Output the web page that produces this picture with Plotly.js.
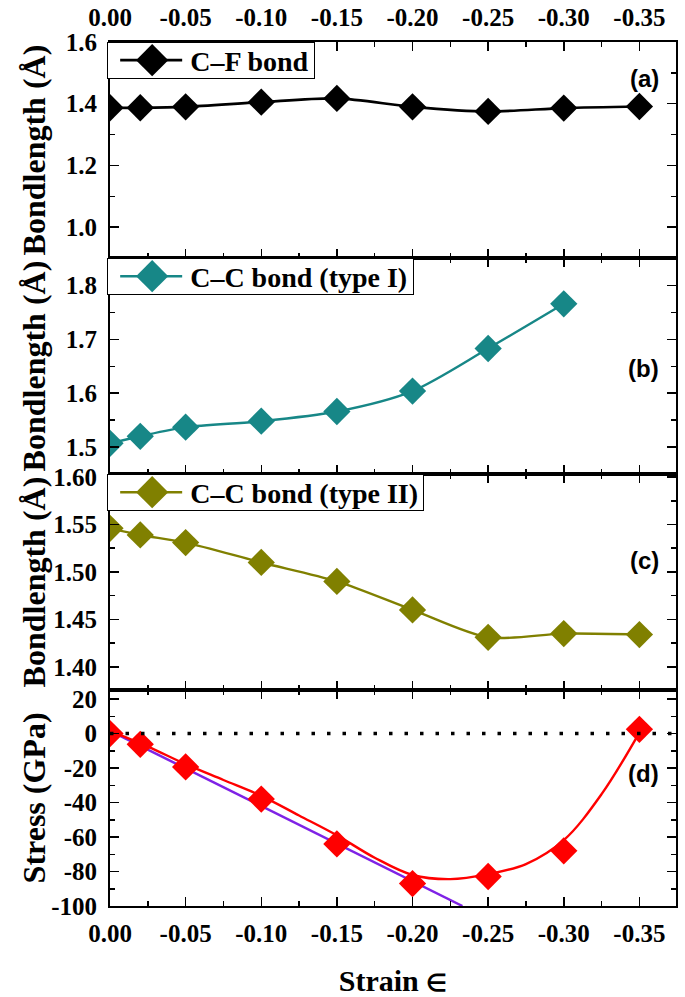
<!DOCTYPE html>
<html>
<head>
<meta charset="utf-8">
<script src="https://cdn.plot.ly/plotly-3.0.1.min.js"></script>
<style>
  html, body { margin: 0; padding: 0; background: #ffffff; }
  #chart { width: 685px; height: 997px; }
</style>
</head>
<body>
<div id="chart"></div>
<script>
// ---- data ----
const strain = [0, -0.02, -0.05, -0.10, -0.15, -0.20, -0.25, -0.30, -0.35];
const strainTypeI = [0, -0.02, -0.05, -0.10, -0.15, -0.20, -0.25, -0.30];
const cfBond = [1.387, 1.387, 1.390, 1.405, 1.417, 1.390, 1.375, 1.386, 1.391];
const ccBondTypeI = [1.507, 1.520, 1.537, 1.548, 1.566, 1.604, 1.683, 1.766];
const ccBondTypeII = [1.546, 1.539, 1.531, 1.510, 1.490, 1.460, 1.431, 1.435, 1.434];
const stress = [0, -6.2, -19.3, -38, -64, -87, -82.9, -68, 2.5];

// red fitted curve
const fitStrain = [0, -0.025, -0.05, -0.075, -0.10, -0.125, -0.15, -0.175, -0.20, -0.225, -0.25, -0.275, -0.30, -0.325, -0.35];
const fitStress = [1.6, -7.5, -17.7, -26.9, -36.1, -47.5, -59.0, -72.0, -82.0, -84.4, -81.5, -75.7, -61.8, -35.1, 0.6];

// violet linear (elastic) fit
const linStrain = [0, -0.233];
const linStress = [1.6, -100];

// tick labels
const xTickVals = [0, -0.05, -0.10, -0.15, -0.20, -0.25, -0.30, -0.35];
const xTickText = ['0.00', '-0.05', '-0.10', '-0.15', '-0.20', '-0.25', '-0.30', '-0.35'];
const yaTickVals = [1.0, 1.2, 1.4, 1.6];
const yaTickText = ['1.0', '1.2', '1.4', '1.6'];
const ybTickVals = [1.5, 1.6, 1.7, 1.8];
const ybTickText = ['1.5', '1.6', '1.7', '1.8'];
const ycTickVals = [1.40, 1.45, 1.50, 1.55, 1.60];
const ycTickText = ['1.40', '1.45', '1.50', '1.55', '1.60'];
const ydTickVals = [-100, -80, -60, -40, -20, 0, 20];
const ydTickText = ['-100', '-80', '-60', '-40', '-20', '0', '20'];

const legendNames = ['C\u2013F bond', 'C\u2013C bond (type I)', 'C\u2013C bond (type II)'];
const panelLabels = ['(a)', '(b)', '(c)', '(d)'];
const yTitles = ['Bondlength (\u00C5)', 'Bondlength (\u00C5)', 'Bondlength (\u00C5)', 'Stress (GPa)'];
const xTitle = 'Strain <span style="font-size:24px">\u2208</span>';

// ---- styling ----
const SERIF = '"Liberation Serif", "Times New Roman", serif';
const SANS = '"Liberation Sans", Arial, sans-serif';
const tickFont = { family: SERIF, size: 25, color: '#000' };
const MS = 21;

const traces = [
  { x: strain, y: cfBond, xaxis: 'x', yaxis: 'y', type: 'scatter', mode: 'lines+markers',
    name: legendNames[0], legend: 'legend',
    line: { color: '#000000', width: 2.7, shape: 'spline', smoothing: 0.8 },
    marker: { symbol: 'diamond', size: MS, color: '#000000' }, cliponaxis: true },
  { x: strainTypeI, y: ccBondTypeI, xaxis: 'x2', yaxis: 'y2', type: 'scatter', mode: 'lines+markers',
    name: legendNames[1], legend: 'legend2',
    line: { color: '#178787', width: 2.4, shape: 'spline', smoothing: 0.8 },
    marker: { symbol: 'diamond', size: MS, color: '#178787' }, cliponaxis: true },
  { x: strain, y: ccBondTypeII, xaxis: 'x3', yaxis: 'y3', type: 'scatter', mode: 'lines+markers',
    name: legendNames[2], legend: 'legend3',
    line: { color: '#808000', width: 2.4, shape: 'spline', smoothing: 0.8 },
    marker: { symbol: 'diamond', size: MS, color: '#808000' }, cliponaxis: true },
  { x: linStrain, y: linStress, xaxis: 'x4', yaxis: 'y4', type: 'scatter', mode: 'lines',
    showlegend: false, line: { color: '#7f22e6', width: 2.5 } },
  { x: fitStrain, y: fitStress, xaxis: 'x4', yaxis: 'y4', type: 'scatter', mode: 'lines',
    showlegend: false, line: { color: '#ff0000', width: 2.4, shape: 'spline', smoothing: 1 } },
  { x: strain, y: stress, xaxis: 'x4', yaxis: 'y4', type: 'scatter', mode: 'markers',
    showlegend: false, marker: { symbol: 'diamond', size: MS, color: '#ff0000' }, cliponaxis: true }
];

const xRange = [0, -0.3742];
function xAxis(anchor, opts) {
  return Object.assign({
    anchor: anchor, range: xRange, autorange: false,
    tickvals: xTickVals, ticktext: xTickText,
    ticks: 'inside', ticklen: 9, tickwidth: 1.5, tickcolor: '#000',
    minor: { dtick: 0.025, tick0: 0, ticks: 'inside', ticklen: 5, tickwidth: 1.5, tickcolor: '#000' },
    showline: true, linecolor: '#000', linewidth: 2, mirror: 'allticks',
    showgrid: false, zeroline: false, tickfont: tickFont, ticklabelstandoff: 4
  }, opts);
}
function yAxis(anchor, domain, range, vals, text, minorD, opts) {
  return Object.assign({
    anchor: anchor, domain: domain, range: range, autorange: false,
    tickvals: vals, ticktext: text,
    ticks: 'inside', ticklen: 9, tickwidth: 1.5, tickcolor: '#000',
    minor: { dtick: minorD, tick0: 0, ticks: 'inside', ticklen: 5, tickwidth: 1.5, tickcolor: '#000' },
    showline: true, linecolor: '#000', linewidth: 2, mirror: 'allticks',
    showgrid: false, zeroline: false, tickfont: tickFont, ticklabelstandoff: 6
  }, opts || {});
}

const legendBase = {
  xref: 'paper', yref: 'paper', x: -0.005, xanchor: 'left', yanchor: 'top',
  bgcolor: '#ffffff', bordercolor: '#000000', borderwidth: 1,
  font: { family: SERIF, size: 28, color: '#000', weight: 'bold' },
  itemwidth: 72, tracegroupgap: 0
};

const panelY = [0.832, 0.49, 0.60, 0.613];
const domains = [[0.75, 1], [0.5, 0.75], [0.25, 0.5], [0, 0.25]];
const yRefs = ['y', 'y2', 'y3', 'y4'];
const xRefs = ['x', 'x2', 'x3', 'x4'];

const annotations = [];
panelLabels.forEach((t, i) => {
  annotations.push({
    text: t, xref: xRefs[i] + ' domain', yref: yRefs[i] + ' domain',
    x: 0.973, y: panelY[i], xanchor: 'right', yanchor: 'middle', showarrow: false,
    font: { family: SANS, size: 24, color: '#000', weight: 'bold' }
  });
});
yTitles.forEach((t, i) => {
  annotations.push({
    text: t, xref: 'paper', yref: 'paper', x: -0.1336,
    y: (domains[i][0] + domains[i][1]) / 2, xanchor: 'center', yanchor: 'middle',
    textangle: -90, showarrow: false,
    font: { family: SERIF, size: 32, color: '#000', weight: 'bold' }
  });
});

const layout = {
  width: 685, height: 997,
  margin: { l: 110, r: 9, t: 42, b: 91, pad: 0 },
  paper_bgcolor: '#ffffff', plot_bgcolor: '#ffffff',
  font: { family: SERIF, color: '#000', weight: 'bold' },
  xaxis: xAxis('y', { side: 'top', showticklabels: true }),
  xaxis2: xAxis('y2', { matches: 'x', showticklabels: false }),
  xaxis3: xAxis('y3', { matches: 'x', showticklabels: false }),
  xaxis4: xAxis('y4', { matches: 'x', showticklabels: true,
    title: { text: xTitle, standoff: 26, font: { family: SERIF, size: 30, color: '#000', weight: 'bold' } } }),
  yaxis: yAxis('x', domains[0], [0.9, 1.6], yaTickVals, yaTickText, 0.1),
  yaxis2: yAxis('x2', domains[1], [1.45, 1.851], ybTickVals, ybTickText, 0.05),
  yaxis3: yAxis('x3', domains[2], [1.3755, 1.6033], ycTickVals, ycTickText, 0.025),
  yaxis4: yAxis('x4', domains[3], [-100, 25.3], ydTickVals, ydTickText, 10),
  legend: Object.assign({}, legendBase, { y: 1.0 }),
  legend2: Object.assign({}, legendBase, { y: 0.75 }),
  legend3: Object.assign({}, legendBase, { y: 0.5 }),
  shapes: [{
    type: 'line', xref: 'x4 domain', yref: 'y4', x0: 0, x1: 1, y0: 0, y1: 0,
    line: { color: '#000', width: 3.5, dash: '3.5px,12px' }
  }],
  annotations: annotations,
  showlegend: true
};

Plotly.newPlot('chart', traces, layout, { staticPlot: true, displayModeBar: false }).then(function () {
  // legend styling as in the reference: longer line sample, larger diamond, tighter box
  const BOX_H = 36;
  document.querySelectorAll('.infolayer g.legend, .infolayer g.legend2, .infolayer g.legend3').forEach(function (lg) {
    lg.querySelectorAll('.legendlines path').forEach(function (p) {
      p.setAttribute('d', 'M12,0h62');
    });
    lg.querySelectorAll('.legendpoints path.scatterpts').forEach(function (p) {
      p.setAttribute('transform', 'translate(44,0) scale(1.55)');
    });
    const bg = lg.querySelector('rect.bg');
    if (bg) {
      const h = parseFloat(bg.getAttribute('height'));
      if (h > BOX_H) {
        bg.setAttribute('height', BOX_H);
        const sb = lg.querySelector('g.scrollbox');
        if (sb) sb.setAttribute('transform', 'translate(0,' + (-(h - BOX_H) / 2) + ')');
      }
    }
  });
});
</script>
</body>
</html>
